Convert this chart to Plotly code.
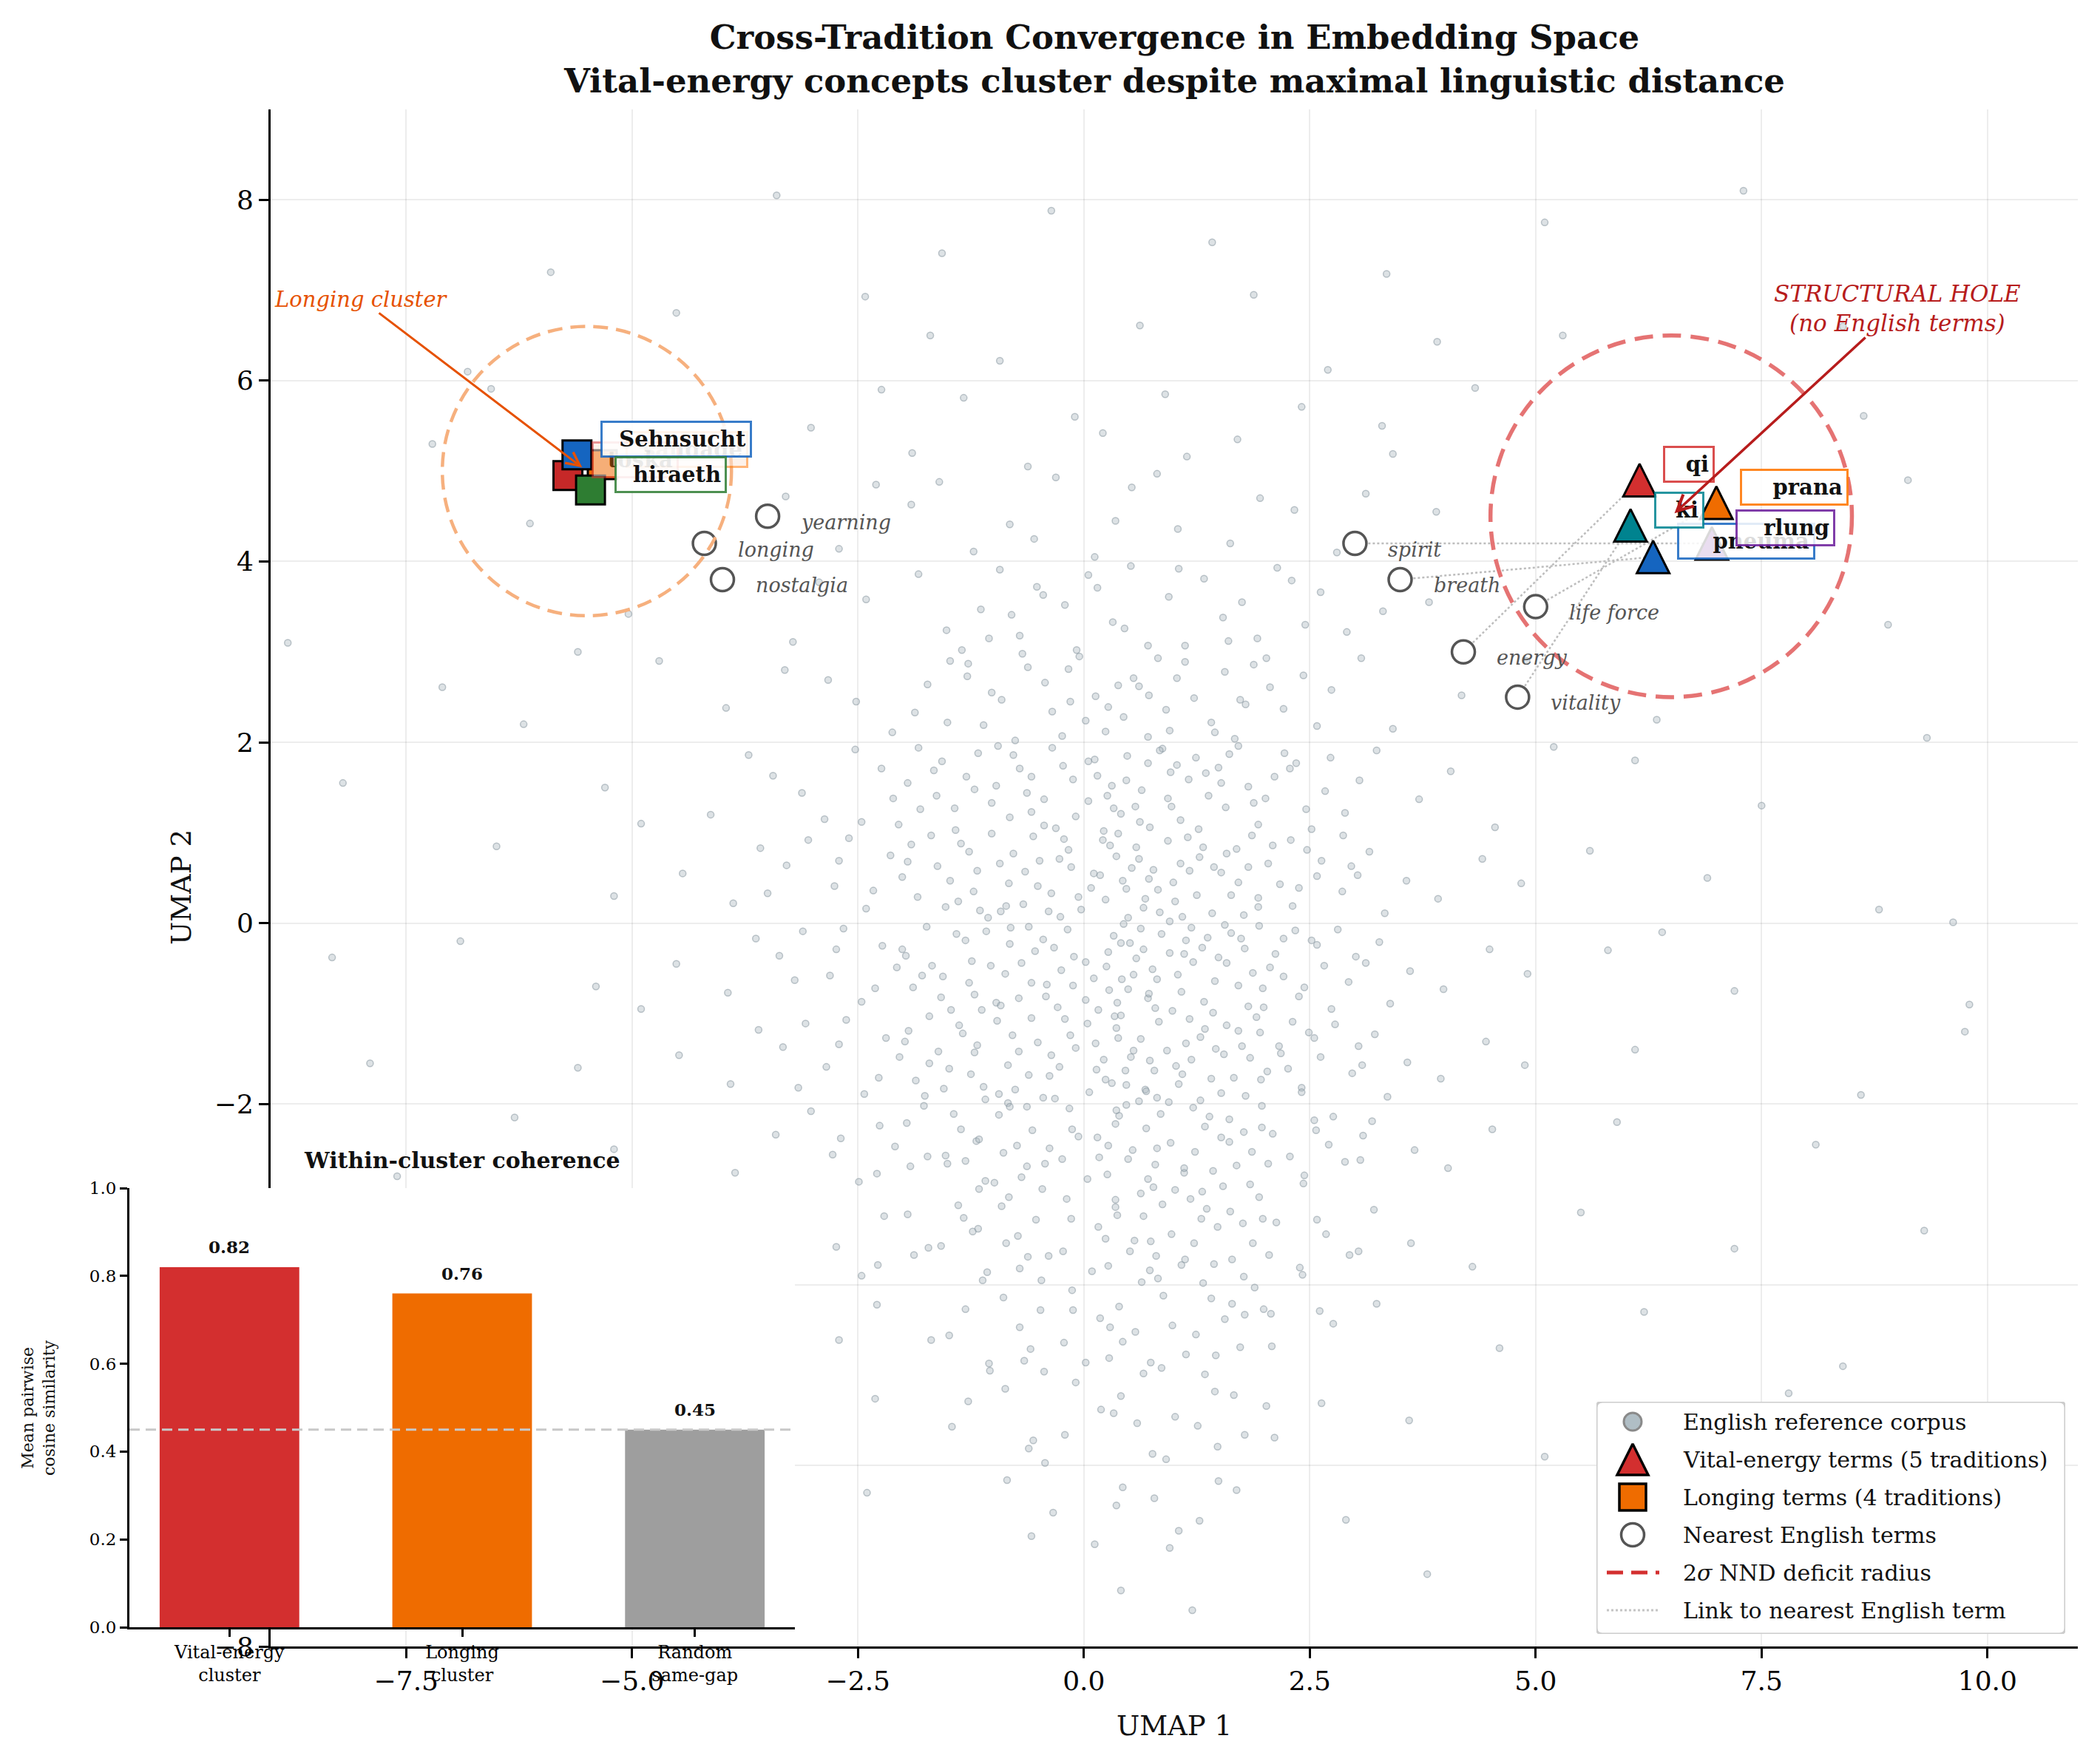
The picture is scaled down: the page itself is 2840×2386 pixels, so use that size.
import plotly.graph_objects as go

# ------------------------------------------------------------------ data
# English reference corpus (faint background cloud)
CORPUS_XY = [
    (-0.36, 7.88), (1.42, 7.53), (-1.57, 7.41), (3.35, 7.18), (-3.4, 8.05), (5.1, 7.75), (-5.9, 7.2), (7.3, 8.1),
    (0.62, 6.61), (-0.93, 6.22), (-6.82, 6.1), (3.91, 6.43), (-2.42, 6.93), (1.88, 6.95), (5.3, 6.5), (-4.51, 6.75),
    (2.7, 6.12), (-1.7, 6.5), (8.4, 6.6), (-6.56, 5.91),
    (0.21, 5.42), (-1.33, 5.81), (1.14, 5.16), (-0.62, 5.05), (2.41, 5.71), (-3.02, 5.48), (4.33, 5.92), (-7.21, 5.3),
    (3.42, 5.19), (8.63, 5.61), (-2.24, 5.9), (0.9, 5.85), (-0.1, 5.6), (1.7, 5.35), (-1.9, 5.2), (3.3, 5.5),
    (-0.82, 4.41), (0.53, 4.82), (1.62, 4.2), (-1.91, 4.63), (0.12, 4.05), (2.33, 4.57), (-0.31, 4.93), (1.04, 4.36),
    (-2.71, 4.14), (3.12, 4.75), (-1.22, 4.11), (0.81, 4.97), (-3.3, 4.72), (3.9, 4.55), (-6.13, 4.42), (9.12, 4.9),
    (-2.3, 4.85), (1.95, 4.7), (-0.55, 4.25), (2.8, 4.1), (0.35, 4.45), (-1.6, 4.88),
    (-0.21, 3.52), (1.33, 3.81), (-1.52, 3.24), (0.71, 3.07), (2.62, 3.66), (-0.93, 3.91), (0.32, 3.33), (-2.41, 3.58),
    (1.92, 3.15), (-0.52, 3.72), (3.31, 3.45), (-1.83, 3.86), (0.94, 3.61), (-3.22, 3.11), (2.14, 3.93), (-0.08, 3.02),
    (1.54, 3.38), (-1.14, 3.47), (0.52, 3.95), (2.91, 3.22), (-2.93, 3.77), (-0.71, 3.18), (1.12, 3.07), (3.82, 3.55),
    (-8.81, 3.1), (-5.6, 3.0), (8.9, 3.3), (-5.04, 3.42), (0.05, 3.85), (1.75, 3.55), (-1.35, 3.02), (2.45, 3.3),
    (0.45, 3.26), (-0.45, 3.63), (1.05, 3.92), (-1.05, 3.15), (0.15, 3.71), (1.6, 3.12), (-0.8, 3.41), (2.3, 3.79),
    (0.13, 2.51), (-0.62, 2.83), (1.41, 2.22), (-1.73, 2.64), (0.82, 2.93), (2.21, 2.37), (-0.24, 2.07), (1.03, 2.71),
    (-2.52, 2.45), (0.44, 2.28), (1.88, 2.86), (-1.11, 2.19), (2.74, 2.58), (-0.91, 2.47), (0.61, 2.62), (-3.31, 2.8),
    (3.42, 2.15), (-0.05, 2.95), (1.67, 2.04), (-1.48, 2.9), (2.43, 2.74), (0.27, 2.39), (-2.12, 2.11), (1.22, 2.49),
    (-0.43, 2.66), (3.07, 2.93), (-1.87, 2.33), (0.95, 2.13), (2.06, 2.61), (-0.76, 2.02), (-2.83, 2.69), (1.56, 2.78),
    (0.02, 2.24), (-3.96, 2.38), (4.18, 2.52), (-1.29, 2.73), (0.71, 2.06), (2.58, 2.18), (-0.17, 2.81), (1.79, 2.42),
    (-4.7, 2.9), (6.34, 2.25), (-7.1, 2.61), (9.33, 2.05), (-6.2, 2.2), (4.9, 2.9),
    (0.55, 2.71), (-0.35, 2.34), (1.12, 2.89), (-1.02, 2.55), (0.24, 2.12), (1.73, 2.47), (-0.68, 2.98), (0.91, 2.36),
    (-1.51, 2.22), (2.02, 2.93), (0.38, 2.63), (-0.15, 2.45), (1.45, 2.11), (-1.28, 2.87), (0.72, 2.52),
    (0.31, 1.52), (-0.82, 1.17), (1.24, 1.83), (-1.63, 1.41), (0.73, 1.06), (2.11, 1.62), (-0.35, 1.94), (1.57, 1.28),
    (-2.24, 1.71), (0.05, 1.35), (1.93, 1.09), (-1.17, 1.88), (2.67, 1.46), (-0.58, 1.23), (0.96, 1.67), (-2.87, 1.15),
    (3.24, 1.91), (-0.12, 1.59), (1.38, 1.41), (-1.42, 1.03), (2.35, 1.77), (0.48, 1.85), (-1.95, 1.55), (1.07, 1.14),
    (-0.71, 1.71), (2.89, 1.22), (-3.44, 1.63), (0.22, 1.02), (1.71, 1.96), (-1.02, 1.33), (0.64, 1.47), (-2.53, 1.92),
    (3.71, 1.37), (-0.44, 1.08), (1.16, 1.59), (-1.81, 1.26), (2.01, 1.38), (0.87, 1.93), (-0.23, 1.74), (-3.12, 1.44),
    (4.06, 1.68), (-1.3, 1.62), (0.41, 1.21), (2.52, 1.04), (-0.95, 1.96), (1.49, 1.72), (-2.05, 1.09), (0.12, 1.81),
    (3.05, 1.58), (-4.13, 1.2), (4.55, 1.06), (-0.63, 1.44), (1.82, 1.51), (-1.57, 1.79), (0.57, 1.29), (2.22, 1.88),
    (-3.71, 1.86), (0.93, 1.38), (-5.3, 1.5), (6.1, 1.8), (-8.2, 1.55), (7.5, 1.3), (5.2, 1.95), (-4.9, 1.1),
    (0.15, 1.63), (-0.44, 1.37), (1.03, 1.75), (-1.21, 1.48), (0.62, 1.12), (1.52, 1.55), (-0.78, 1.86), (0.33, 1.27),
    (1.88, 1.33), (-1.66, 1.69), (0.84, 1.91), (-0.09, 1.18), (1.27, 1.04), (-0.97, 1.52), (2.28, 1.71), (0.47, 1.58),
    (-0.31, 1.05), (1.61, 1.87), (-1.43, 1.27), (0.05, 1.79), (2.46, 1.26), (-2.11, 1.38), (0.97, 1.29), (-0.58, 1.62),
    (1.35, 1.66), (-1.83, 1.94), (0.26, 1.41), (2.73, 1.83), (-2.46, 1.12), (0.71, 1.77),
    (0.18, 0.53), (-0.67, 0.21), (1.32, 0.84), (-1.48, 0.47), (0.84, 0.12), (2.04, 0.66), (-0.22, 0.93), (1.63, 0.31),
    (-2.14, 0.75), (0.47, 0.38), (1.86, 0.97), (-1.06, 0.06), (2.58, 0.52), (-0.49, 0.69), (1.01, 0.24), (-2.76, 0.41),
    (3.16, 0.79), (-0.03, 0.15), (1.44, 0.62), (-1.36, 0.88), (2.31, 0.19), (0.61, 0.71), (-1.84, 0.29), (1.15, 0.95),
    (-0.83, 0.44), (2.86, 0.35), (-3.29, 0.64), (0.29, 0.86), (1.77, 0.09), (-1.18, 0.58), (0.72, 0.49), (-2.41, 0.16),
    (3.57, 0.47), (-0.36, 0.33), (1.28, 0.73), (-1.69, 0.97), (2.17, 0.43), (0.95, 0.02), (-0.14, 0.62), (-3.05, 0.92),
    (3.92, 0.27), (-1.22, 0.35), (0.38, 0.99), (2.47, 0.81), (-0.92, 0.13), (1.52, 0.56), (-2.01, 0.51), (0.08, 0.39),
    (2.96, 0.63), (-3.88, 0.22), (4.41, 0.71), (-0.56, 0.96), (1.93, 0.28), (-1.53, 0.18), (0.53, 0.61), (2.29, 0.92),
    (-3.58, 0.83), (0.99, 0.45), (-0.26, 0.07), (1.07, 0.66), (-4.44, 0.55), (4.84, 0.44), (-0.78, 0.77), (1.69, 0.82),
    (-2.6, 0.94), (0.24, 0.26), (3.33, 0.11), (-1.95, 0.68), (0.66, 0.17), (-5.2, 0.3), (5.6, 0.8), (8.8, 0.15),
    (-6.5, 0.85), (6.9, 0.5), (9.62, 0.01),
    (0.36, 0.74), (-0.51, 0.41), (1.17, 0.58), (-1.27, 0.79), (0.68, 0.27), (1.71, 0.45), (-0.17, 0.81), (0.93, 0.91),
    (-0.86, 0.19), (1.42, 0.11), (-1.62, 0.63), (0.11, 0.55), (2.09, 0.86), (-0.39, 0.13), (1.58, 0.77), (-2.33, 0.36),
    (0.49, 0.06), (2.63, 0.69), (-1.02, 0.99), (0.82, 0.37), (-0.65, 0.57), (1.25, 0.31), (-1.91, 0.87), (0.21, 0.92),
    (1.93, 0.18), (-0.06, 0.29), (2.38, 0.39), (-1.39, 0.24), (0.58, 0.84), (-2.71, 0.69), (3.03, 0.53), (1.09, 0.07),
    (-0.93, 0.66), (0.43, 0.47), (1.82, 0.62), (-1.15, 0.14), (2.87, 0.97), (-0.27, 0.71), (0.77, 0.59), (-3.5, 0.33),
    (0.25, -0.48), (-0.72, -0.83), (1.37, -0.16), (-1.56, -0.59), (0.79, -0.94), (2.12, -0.34), (-0.18, -0.07), (1.71, -0.69),
    (-2.23, -0.25), (0.42, -0.62), (1.94, -0.03), (-1.13, -0.96), (2.66, -0.47), (-0.54, -0.31), (1.08, -0.76), (-2.81, -0.58),
    (3.27, -0.21), (0.02, -0.85), (1.49, -0.38), (-1.41, -0.12), (2.38, -0.81), (0.66, -0.29), (-1.89, -0.71), (1.19, -0.05),
    (-0.87, -0.56), (2.93, -0.65), (-3.37, -0.36), (0.33, -0.14), (1.82, -0.92), (-1.24, -0.42), (0.76, -0.51), (-2.46, -0.87),
    (3.61, -0.53), (-0.41, -0.68), (1.31, -0.27), (-1.74, -0.04), (2.21, -0.59), (0.98, -0.97), (-0.11, -0.37), (-3.11, -0.09),
    (3.98, -0.73), (-1.27, -0.66), (0.44, -0.01), (2.52, -0.19), (-0.97, -0.88), (1.58, -0.44), (-2.07, -0.49), (0.11, -0.61),
    (3.01, -0.37), (-3.94, -0.77), (4.49, -0.29), (-0.61, -0.04), (1.98, -0.72), (-1.58, -0.82), (0.58, -0.39), (2.34, -0.08),
    (-3.63, -0.17), (1.04, -0.57), (-0.29, -0.93), (1.11, -0.34), (-4.51, -0.45), (4.91, -0.56), (-0.82, -0.23), (1.74, -0.17),
    (-2.66, -0.06), (0.28, -0.74), (3.39, -0.89), (-2.01, -0.29), (0.71, -0.83), (-0.45, -0.18), (1.43, -0.99), (-1.03, -0.47),
    (2.74, -0.95), (0.51, -0.22), (-5.4, -0.7), (5.8, -0.3), (-8.32, -0.38), (9.8, -0.9), (-6.9, -0.2), (7.2, -0.75),
    (6.4, -0.1), (-4.9, -0.95),
    (0.41, -0.22), (-0.58, -0.66), (1.21, -0.43), (-1.31, -0.19), (0.72, -0.78), (1.63, -0.11), (-0.25, -0.52), (0.95, -0.33),
    (-0.92, -0.91), (1.45, -0.64), (-1.68, -0.47), (0.16, -0.96), (2.06, -0.49), (-0.42, -0.81), (1.78, -0.28), (-2.31, -0.72),
    (0.55, -0.57), (2.58, -0.24), (-1.08, -0.09), (0.86, -0.12), (-0.69, -0.44), (1.33, -0.87), (-1.97, -0.36), (0.27, -0.32),
    (1.99, -0.93), (-0.12, -0.69), (2.44, -0.71), (-1.47, -0.96), (0.63, -0.06), (-2.74, -0.29), (3.12, -0.44), (1.13, -0.19),
    (-0.81, -0.05), (0.37, -0.88), (1.87, -0.55), (-1.21, -0.79), (2.81, -0.07), (-0.33, -0.27), (0.81, -0.62), (-3.2, -0.63),
    (1.56, -0.02), (0.02, -0.43), (-1.79, -0.58), (2.21, -0.17), (0.49, -0.73),
    (0.22, -1.51), (-0.76, -1.84), (1.34, -1.17), (-1.61, -1.42), (0.81, -1.93), (2.16, -1.36), (-0.21, -1.06), (1.66, -1.71),
    (-2.19, -1.27), (0.46, -1.63), (1.91, -1.04), (-1.09, -1.95), (2.62, -1.48), (-0.51, -1.32), (1.05, -1.78), (-2.85, -1.59),
    (3.22, -1.23), (0.06, -1.87), (1.46, -1.39), (-1.38, -1.13), (2.41, -1.82), (0.63, -1.28), (-1.86, -1.74), (1.17, -1.06),
    (-0.84, -1.57), (2.97, -1.66), (-3.33, -1.37), (0.36, -1.16), (1.79, -1.91), (-1.21, -1.43), (0.73, -1.52), (-2.43, -1.89),
    (3.58, -1.54), (-0.38, -1.69), (1.29, -1.26), (-1.71, -1.03), (2.26, -1.61), (0.94, -1.98), (-0.09, -1.38), (-3.08, -1.11),
    (3.95, -1.72), (-1.25, -1.67), (0.41, -1.02), (2.49, -1.21), (-0.94, -1.89), (1.55, -1.45), (-2.04, -1.48), (0.14, -1.62),
    (3.04, -1.36), (-3.91, -1.78), (4.45, -1.31), (-0.58, -1.05), (1.96, -1.73), (-1.55, -1.83), (0.55, -1.41), (2.31, -1.09),
    (-3.6, -1.18), (1.02, -1.58), (-0.32, -1.94), (1.13, -1.33), (-4.48, -1.46), (4.88, -1.57), (-0.79, -1.24), (1.71, -1.19),
    (-2.63, -1.07), (0.31, -1.77), (3.36, -1.92), (-1.98, -1.31), (0.68, -1.84), (-5.6, -1.6), (6.1, -1.4), (-7.9, -1.55),
    (8.6, -1.9), (9.75, -1.2),
    (0.38, -1.27), (-0.61, -1.68), (1.19, -1.51), (-1.34, -1.22), (0.69, -1.86), (1.58, -1.13), (-0.27, -1.59), (0.92, -1.41),
    (-0.96, -1.08), (1.41, -1.72), (-1.71, -1.55), (0.13, -1.33), (2.03, -1.64), (-0.45, -1.93), (1.75, -1.36), (-2.27, -1.71),
    (0.52, -1.48), (2.55, -1.27), (-1.11, -1.81), (0.83, -1.09), (-0.72, -1.42), (1.29, -1.96), (-1.94, -1.19), (0.24, -1.73),
    (1.95, -1.21), (-0.15, -1.24), (2.41, -1.87), (-1.49, -1.61), (0.61, -1.97), (-2.71, -1.34), (3.08, -1.57), (1.09, -1.67),
    (-0.84, -1.99), (0.34, -1.03), (1.84, -1.49), (-1.18, -1.35), (2.78, -1.12), (-0.36, -1.46), (0.78, -1.63), (-3.16, -1.82),
    (1.52, -1.88), (0.04, -1.11), (-1.76, -1.91), (2.18, -1.44), (0.47, -1.79),
    (0.27, -2.46), (-0.69, -2.81), (1.39, -2.14), (-1.53, -2.57), (0.77, -2.92), (2.09, -2.33), (-0.16, -2.05), (1.69, -2.68),
    (-2.26, -2.24), (0.49, -2.61), (1.97, -2.02), (-1.16, -2.94), (2.71, -2.45), (-0.57, -2.29), (1.11, -2.76), (-2.78, -2.56),
    (3.19, -2.19), (0.04, -2.83), (1.52, -2.37), (-1.44, -2.11), (2.44, -2.79), (0.69, -2.27), (-1.92, -2.69), (1.21, -2.04),
    (-0.89, -2.54), (2.89, -2.64), (-3.41, -2.34), (0.39, -2.13), (1.84, -2.89), (-1.19, -2.41), (0.81, -2.49), (-2.49, -2.86),
    (3.66, -2.51), (-0.43, -2.66), (1.34, -2.25), (-1.77, -2.02), (2.28, -2.58), (1.01, -2.95), (-0.06, -2.36), (-3.02, -2.08),
    (4.03, -2.71), (-1.31, -2.63), (0.47, -2.01), (2.55, -2.18), (-0.99, -2.87), (1.61, -2.42), (-2.09, -2.47), (0.17, -2.59),
    (3.09, -2.35), (-3.86, -2.76), (4.52, -2.28), (-0.63, -2.03), (-5.2, -2.5), (5.9, -2.2), (-7.6, -2.8), (8.1, -2.45),
    (-6.3, -2.15),
    (0.35, -2.22), (-0.63, -2.69), (1.23, -2.53), (-1.36, -2.28), (0.71, -2.83), (1.61, -2.17), (-0.24, -2.61), (0.96, -2.43),
    (-0.94, -2.12), (1.43, -2.74), (-1.73, -2.58), (0.15, -2.37), (2.04, -2.66), (-0.46, -2.94), (1.77, -2.31), (-2.29, -2.77),
    (0.54, -2.51), (2.57, -2.29), (-1.09, -2.85), (0.85, -2.11), (-0.74, -2.46), (1.31, -2.97), (-1.96, -2.21), (0.26, -2.78),
    (1.97, -2.26), (-0.13, -2.28), (2.43, -2.88), (-1.51, -2.66), (0.63, -2.99), (-2.69, -2.38), (3.06, -2.62), (1.11, -2.71),
    (-0.82, -2.03), (0.36, -2.07), (1.86, -2.53), (-1.16, -2.39), (2.76, -2.14), (-0.38, -2.49), (0.79, -2.67), (1.54, -2.91),
    (0.24, -3.49), (-0.71, -3.82), (1.36, -3.16), (-1.58, -3.57), (0.82, -3.93), (2.13, -3.31), (-0.19, -3.05), (1.64, -3.72),
    (-2.21, -3.24), (0.51, -3.63), (1.94, -3.03), (-1.12, -3.95), (2.68, -3.44), (-0.53, -3.28), (1.08, -3.78), (-2.74, -3.58),
    (3.21, -3.17), (0.09, -3.85), (1.48, -3.36), (-1.39, -3.12), (2.39, -3.81), (0.66, -3.24), (-1.88, -3.67), (1.18, -3.05),
    (-0.86, -3.54), (2.94, -3.67), (0.35, -3.14), (1.77, -3.91), (-1.23, -3.41), (0.74, -3.52), (-2.46, -3.9), (3.62, -3.54),
    (-0.39, -3.68), (1.3, -3.27), (4.3, -3.8), (5.5, -3.2), (7.2, -3.6), (9.3, -3.4),
    (0.37, -3.23), (-0.62, -3.69), (1.22, -3.54), (-1.33, -3.26), (0.73, -3.84), (1.62, -3.19), (-0.23, -3.63), (0.97, -3.44),
    (-0.91, -3.13), (1.44, -3.77), (-1.72, -3.59), (0.16, -3.36), (2.05, -3.67), (-0.47, -3.95), (1.76, -3.32), (-2.28, -3.78),
    (0.56, -3.51), (2.58, -3.28), (-1.07, -3.86), (0.87, -3.11), (-0.73, -3.46), (1.32, -3.98), (-1.95, -3.22), (0.27, -3.79),
    (1.98, -3.27), (-0.14, -3.27), (2.42, -3.89), (0.64, -3.97), (3.04, -3.63), (1.12, -3.72), (-0.83, -3.03), (0.35, -3.06),
    (1.87, -3.54), (-1.17, -3.38), (0.8, -3.68),
    (0.29, -4.47), (-0.66, -4.84), (1.41, -4.15), (-1.49, -4.56), (0.86, -4.92), (2.07, -4.32), (-0.13, -4.06), (1.73, -4.69),
    (-2.29, -4.22), (0.43, -4.63), (1.89, -4.03), (-1.04, -4.95), (2.76, -4.43), (-0.48, -4.28), (1.13, -4.77), (-2.71, -4.61),
    (3.24, -4.21), (0.02, -4.86), (1.56, -4.38), (4.6, -4.7), (6.2, -4.3), (8.4, -4.9),
    (0.39, -4.24), (-0.59, -4.71), (1.24, -4.55), (-1.31, -4.27), (0.74, -4.86), (1.64, -4.21), (-0.22, -4.64), (0.98, -4.45),
    (-0.89, -4.14), (1.46, -4.78), (-1.69, -4.61), (0.18, -4.37), (2.08, -4.68), (-0.44, -4.96), (1.78, -4.33), (0.57, -4.52),
    (2.61, -4.29), (-1.05, -4.87), (0.88, -4.12), (-0.71, -4.47), (1.34, -4.99), (0.28, -4.81), (1.99, -4.27), (-0.12, -4.28),
    (0.66, -4.98),
    (0.33, -5.42), (-0.61, -5.81), (1.45, -5.18), (-1.46, -5.57), (0.91, -5.93), (2.02, -5.34), (-0.09, -5.08), (1.78, -5.66),
    (-2.31, -5.26), (3.6, -5.5), (5.1, -5.9), (7.8, -5.2),
    (0.41, -5.23), (-0.56, -5.72), (1.26, -5.56), (-1.28, -5.29), (0.76, -5.87), (1.66, -5.22), (-0.21, -5.66), (1.01, -5.46),
    (-0.87, -5.15), (1.48, -5.79), (0.19, -5.38), (2.11, -5.69), (0.59, -5.53), (-0.43, -5.97), (2.63, -5.31),
    (0.36, -6.44), (-0.58, -6.78), (1.49, -6.17), (0.95, -6.91), (2.9, -6.6), (-2.4, -6.3),
    (0.43, -6.24), (-0.34, -6.52), (1.28, -6.61), (0.78, -6.36), (1.69, -6.27), (-0.85, -6.16), (0.12, -6.87), (1.05, -6.72),
    (0.41, -7.38), (1.2, -7.6), (3.8, -7.2),
]

ENGLISH_TERMS = ["yearning", "longing", "nostalgia", "spirit", "breath", "life force", "energy", "vitality"]
ENGLISH_X = [-3.5, -4.2, -4.0, 3.0, 3.5, 5.0, 4.2, 4.8]
ENGLISH_Y = [4.5, 4.2, 3.8, 4.2, 3.8, 3.5, 3.0, 2.5]

VITAL_TERMS = ["qi", "prana", "pneuma", "ki", "rlung"]
VITAL_X = [6.15, 7.0, 6.3, 6.05, 6.95]
VITAL_Y = [4.9, 4.65, 4.05, 4.4, 4.2]
VITAL_NEAREST = ["energy", "life force", "breath", "vitality", "spirit"]

LONGING_TERMS = ["saudade", "toska", "Sehnsucht", "hiraeth"]
LONGING_X = [-5.33, -5.71, -5.61, -5.46]
LONGING_Y = [5.07, 4.95, 5.18, 4.79]

VITAL_CENTER = (6.5, 4.5)
VITAL_RADIUS = 2.0
LONGING_CENTER = (-5.5, 5.0)
LONGING_RADIUS = 1.6
LONGING_NOTE_XY = (-8.0, 6.9)
HOLE_NOTE_XY = (9.0, 6.8)

COHERENCE_LABELS = ["Vital-energy<br>cluster", "Longing<br>cluster", "Random<br>same-gap"]
COHERENCE_VALUES = [0.82, 0.76, 0.45]
COHERENCE_BASELINE = 0.45

X_RANGE = [-9, 11]
Y_RANGE = [-8, 9]
X_TICKS = [-7.5, -5.0, -2.5, 0.0, 2.5, 5.0, 7.5, 10.0]
Y_TICKS = [-8, -6, -4, -2, 0, 2, 4, 6, 8]
INSET_Y_TICKS = [0.0, 0.2, 0.4, 0.6, 0.8, 1.0]

LEGEND_ITEMS = ["English reference corpus", "Vital-energy terms (5 traditions)",
                "Longing terms (4 traditions)", "Nearest English terms",
                "2<i>σ</i> NND deficit radius", "Link to nearest English term"]

# ------------------------------------------------------------------ style
FONT = "DejaVu Serif"
W, H = 2840, 2386
PLOT_L, PLOT_R, PLOT_T, PLOT_B = 366, 2810, 148, 2227
INS_L, INS_R, INS_T, INS_B = 175, 1075, 1607, 2201
LEG_L, LEG_R, LEG_T, LEG_B = 2159, 2793, 1896, 2210

TERM_COLORS = {
    "qi": "#d32f2f", "prana": "#ef6c00", "ki": "#00838f", "pneuma": "#1565c0", "rlung": "#6a1b9a",
    "saudade": "#ef6c00", "toska": "#c62828", "Sehnsucht": "#1565c0", "hiraeth": "#2e7d32",
}
BOX_EDGE = {
    "qi": "rgba(211,47,47,0.85)", "prana": "rgba(255,122,10,0.9)", "ki": "rgba(0,131,143,0.85)",
    "pneuma": "rgba(21,101,192,0.85)", "rlung": "rgba(106,27,154,0.85)",
    "saudade": "rgba(255,122,10,0.9)", "toska": "rgba(211,47,47,0.85)",
    "Sehnsucht": "rgba(21,101,192,0.85)", "hiraeth": "rgba(46,125,50,0.85)",
}
BOX_TOTAL_W = {"qi": 70, "prana": 147, "ki": 68, "pneuma": 187, "rlung": 135,
               "saudade": 166, "toska": 118, "Sehnsucht": 205, "hiraeth": 152}
BAR_COLORS = ["#d32f2f", "#ef6c00", "#9e9e9e"]

TRI_PX = 44
SQ_PX = 39
PX_PER_UNIT_Y = (PLOT_B - PLOT_T) / (Y_RANGE[1] - Y_RANGE[0])


def fx(px):
    return px / W


def fy(py):
    return 1 - py / H


fig = go.Figure()

# background corpus
fig.add_trace(go.Scatter(
    x=[p[0] for p in CORPUS_XY], y=[p[1] for p in CORPUS_XY], mode="markers",
    marker=dict(size=9, color="rgba(170,182,190,0.4)", line=dict(color="rgba(128,144,154,0.5)", width=1.5)),
    hoverinfo="skip", showlegend=False))

# dotted links vital term -> nearest English term
eng_pos = {t: (x, y) for t, x, y in zip(ENGLISH_TERMS, ENGLISH_X, ENGLISH_Y)}
lx, ly = [], []
for t, x, y, n in zip(VITAL_TERMS, VITAL_X, VITAL_Y, VITAL_NEAREST):
    ex, ey = eng_pos[n]
    lx += [ex, x, None]
    ly += [ey, y, None]
fig.add_trace(go.Scatter(x=lx, y=ly, mode="lines", line=dict(color="#bdbdbd", width=2.5, dash="dot"),
                         hoverinfo="skip", showlegend=False))

# nearest English terms
fig.add_trace(go.Scatter(x=ENGLISH_X, y=ENGLISH_Y, mode="markers",
                         marker=dict(size=31, color="white", line=dict(color="#555555", width=3.5)),
                         hoverinfo="skip", showlegend=False))

# longing squares
fig.add_trace(go.Scatter(x=LONGING_X, y=LONGING_Y, mode="markers",
                         marker=dict(symbol="square", size=SQ_PX, color=[TERM_COLORS[t] for t in LONGING_TERMS],
                                     line=dict(color="black", width=3)),
                         hoverinfo="skip", showlegend=False))

# vital-energy triangles ('arrow-up' has its apex at the point: lift it by half its height)
half_tri = (TRI_PX / 2) / PX_PER_UNIT_Y
fig.add_trace(go.Scatter(x=VITAL_X, y=[v + half_tri for v in VITAL_Y], mode="markers",
                         marker=dict(symbol="arrow-up", size=TRI_PX, color=[TERM_COLORS[t] for t in VITAL_TERMS],
                                     line=dict(color="black", width=3)),
                         hoverinfo="skip", showlegend=False))

# inset bars
fig.add_trace(go.Bar(x=[0, 1, 2], y=COHERENCE_VALUES, width=0.6, marker=dict(color=BAR_COLORS, line=dict(width=0)),
                     xaxis="x2", yaxis="y2", hoverinfo="skip", showlegend=False))

# ------------------------------------------------------------------ custom legend (own subplot)
LW, LH = LEG_R - LEG_L, LEG_B - LEG_T
row_y = [27 + 51 * i for i in range(len(LEGEND_ITEMS))]
mk_x = 49
fig.add_trace(go.Scatter(x=[mk_x], y=[row_y[0]], mode="markers", xaxis="x3", yaxis="y3",
                         marker=dict(size=24, color="#b0bec5", line=dict(color="#8a8a8a", width=3)),
                         hoverinfo="skip", showlegend=False))
fig.add_trace(go.Scatter(x=[mk_x], y=[row_y[1] - 21], mode="markers", xaxis="x3", yaxis="y3",
                         marker=dict(symbol="arrow-up", size=42, color="#d32f2f", line=dict(color="black", width=3.5)),
                         hoverinfo="skip", showlegend=False))
fig.add_trace(go.Scatter(x=[mk_x], y=[row_y[2]], mode="markers", xaxis="x3", yaxis="y3",
                         marker=dict(symbol="square", size=36, color="#ef6c00", line=dict(color="black", width=3.5)),
                         hoverinfo="skip", showlegend=False))
fig.add_trace(go.Scatter(x=[mk_x], y=[row_y[3]], mode="markers", xaxis="x3", yaxis="y3",
                         marker=dict(size=31, color="white", line=dict(color="#555555", width=3.5)),
                         hoverinfo="skip", showlegend=False))
fig.add_trace(go.Scatter(x=[14, 85], y=[row_y[4]] * 2, mode="lines", xaxis="x3", yaxis="y3",
                         line=dict(color="#d32f2f", width=5, dash="22px,11px"), hoverinfo="skip", showlegend=False))
fig.add_trace(go.Scatter(x=[14, 85], y=[row_y[5]] * 2, mode="lines", xaxis="x3", yaxis="y3",
                         line=dict(color="#c4c4c4", width=3, dash="dot"), hoverinfo="skip", showlegend=False))

annotations = []
for txt, yy in zip(LEGEND_ITEMS, row_y):
    annotations.append(dict(x=115, y=yy, xref="x3", yref="y3", text=txt, showarrow=False, xanchor="left",
                            yanchor="middle", font=dict(family=FONT, size=30, color="#111111")))


# term labels
def term_label(t, x, y, faded=False):
    return dict(x=x, y=y, xref="x", yref="y", text="<b>%s</b>" % t, showarrow=False,
                xanchor="left", yanchor="bottom", xshift=32, yshift=-4,
                font=dict(family=FONT, size=29, color="#111111"),
                bgcolor="rgba(252,232,220,0.9)" if faded else "rgba(255,255,255,0.85)",
                bordercolor=BOX_EDGE[t], borderwidth=3, borderpad=5,
                width=BOX_TOTAL_W[t] - 16, align="right", opacity=0.6 if faded else 1)


for t, x, y in zip(LONGING_TERMS, LONGING_X, LONGING_Y):
    annotations.append(term_label(t, x, y, faded=(t in ("toska", "saudade"))))
for t, x, y in zip(VITAL_TERMS, VITAL_X, VITAL_Y):
    annotations.append(term_label(t, x, y))

for t, x, y in zip(ENGLISH_TERMS, ENGLISH_X, ENGLISH_Y):
    annotations.append(dict(x=x, y=y, xref="x", yref="y", text=t, showarrow=False, xanchor="left",
                            yanchor="middle", xshift=43, yshift=-8,
                            font=dict(family=FONT, size=27, color="#555555", style="italic")))

# callouts
annotations.append(dict(x=LONGING_CENTER[0], y=LONGING_CENTER[1], ax=LONGING_NOTE_XY[0], ay=LONGING_NOTE_XY[1],
                        xref="x", yref="y", axref="x", ayref="y", text="Longing cluster", showarrow=True,
                        arrowhead=5, arrowsize=1.2, arrowwidth=3, arrowcolor="#e65100", standoff=8,
                        font=dict(family=FONT, size=29, color="#e65100", style="italic")))
annotations.append(dict(x=VITAL_CENTER[0], y=VITAL_CENTER[1], ax=HOLE_NOTE_XY[0], ay=HOLE_NOTE_XY[1],
                        xref="x", yref="y", axref="x", ayref="y",
                        text="STRUCTURAL HOLE<br>(no English terms)", showarrow=True,
                        arrowhead=5, arrowsize=1.2, arrowwidth=3.5, arrowcolor="#b71c1c", standoff=6,
                        font=dict(family=FONT, size=31, color="#b71c1c", style="italic")))

# titles
annotations.append(dict(x=fx((PLOT_L + PLOT_R) / 2), y=fy(80), xref="paper", yref="paper",
                        text="<b>Cross-Tradition Convergence in Embedding Space</b><br>"
                             "<b>Vital-energy concepts cluster despite maximal linguistic distance</b>",
                        showarrow=False, xanchor="center", yanchor="middle",
                        font=dict(family=FONT, size=45, color="#111111")))
annotations.append(dict(x=fx((PLOT_L + PLOT_R) / 2), y=fy(2334), xref="paper", yref="paper", text="UMAP 1",
                        showarrow=False, xanchor="center", yanchor="middle",
                        font=dict(family=FONT, size=37, color="#111111")))
annotations.append(dict(x=fx(245), y=fy(1200), xref="paper", yref="paper", text="UMAP 2", textangle=-90,
                        showarrow=False, xanchor="center", yanchor="middle",
                        font=dict(family=FONT, size=37, color="#111111")))

# inset texts
annotations.append(dict(x=fx((INS_L + INS_R) / 2), y=fy(1570), xref="paper", yref="paper",
                        text="<b>Within-cluster coherence</b>", showarrow=False, xanchor="center", yanchor="middle",
                        font=dict(family=FONT, size=30, color="#111111")))
annotations.append(dict(x=fx(52), y=fy((INS_T + INS_B) / 2), xref="paper", yref="paper",
                        text="Mean pairwise<br>cosine similarity", textangle=-90, showarrow=False,
                        xanchor="center", yanchor="middle", font=dict(family=FONT, size=22, color="#111111")))
for i, v in enumerate(COHERENCE_VALUES):
    annotations.append(dict(x=i, y=v, xref="x2", yref="y2", text="<b>%.2f</b>" % v, showarrow=False,
                            xanchor="center", yanchor="bottom", yshift=12,
                            font=dict(family=FONT, size=23, color="#111111")))

# shapes
shapes = [
    dict(type="circle", xref="x", yref="y", layer="above",
         x0=VITAL_CENTER[0] - VITAL_RADIUS, x1=VITAL_CENTER[0] + VITAL_RADIUS,
         y0=VITAL_CENTER[1] - VITAL_RADIUS, y1=VITAL_CENTER[1] + VITAL_RADIUS,
         line=dict(color="#e57373", width=5.5, dash="25px,13px")),
    dict(type="circle", xref="x", yref="y", layer="above",
         x0=LONGING_CENTER[0] - LONGING_RADIUS, x1=LONGING_CENTER[0] + LONGING_RADIUS,
         y0=LONGING_CENTER[1] - LONGING_RADIUS, y1=LONGING_CENTER[1] + LONGING_RADIUS,
         line=dict(color="#f6b07e", width=4.5, dash="20px,11px")),
    dict(type="line", xref="x2 domain", yref="y2", x0=0, x1=1, y0=COHERENCE_BASELINE, y1=COHERENCE_BASELINE,
         layer="above", line=dict(color="#c8c8c8", width=3, dash="14px,8px")),
]
r = 8
legend_path = ("M %d,0 H %d Q %d,0 %d,%d V %d Q %d,%d %d,%d H %d Q 0,%d 0,%d V %d Q 0,0 %d,0 Z" %
               (r, LW - r, LW, LW, r, LH - r, LW, LH, LW - r, LH, r, LH, LH - r, r, r))
shapes.append(dict(type="path", xref="x3", yref="y3", path=legend_path, layer="above",
                   line=dict(color="#cccccc", width=3)))

axis_common = dict(showline=True, linecolor="black", linewidth=3, ticks="outside", tickcolor="black",
                   zeroline=False, automargin=False)

fig.update_layout(
    width=W, height=H, margin=dict(l=0, r=0, t=0, b=0, pad=0),
    paper_bgcolor="white", plot_bgcolor="white", hovermode=False, showlegend=False,
    font=dict(family=FONT, color="#111111"),
    xaxis=dict(domain=[fx(PLOT_L), fx(PLOT_R)], range=X_RANGE, tickvals=X_TICKS, tickformat=".1f",
               ticklen=13, tickwidth=3, showgrid=True, gridcolor="rgba(0,0,0,0.07)", gridwidth=2,
               tickfont=dict(family=FONT, size=36, color="black"), anchor="y", **axis_common),
    yaxis=dict(domain=[fy(PLOT_B), fy(PLOT_T)], range=Y_RANGE, tickvals=Y_TICKS,
               ticklen=13, tickwidth=3, showgrid=True, gridcolor="rgba(0,0,0,0.07)", gridwidth=2,
               tickfont=dict(family=FONT, size=36, color="black"), anchor="x", **axis_common),
    xaxis2=dict(domain=[fx(INS_L), fx(INS_R)], range=[-0.43, 2.43], tickvals=[0, 1, 2], ticktext=COHERENCE_LABELS,
                ticklen=10, tickwidth=2.5, showgrid=False, tickfont=dict(family=FONT, size=24, color="black"),
                anchor="y2", **axis_common),
    yaxis2=dict(domain=[fy(INS_B), fy(INS_T)], range=[0, 1.0], tickvals=INSET_Y_TICKS, tickformat=".1f",
                ticklen=10, tickwidth=2.5, showgrid=False, tickfont=dict(family=FONT, size=23, color="black"),
                anchor="x2", **axis_common),
    xaxis3=dict(domain=[fx(LEG_L), fx(LEG_R)], range=[0, LW], visible=False, anchor="y3"),
    yaxis3=dict(domain=[fy(LEG_B), fy(LEG_T)], range=[LH, 0], visible=False, anchor="x3"),
    annotations=annotations, shapes=shapes,
)

fig.write_html("out.html")
